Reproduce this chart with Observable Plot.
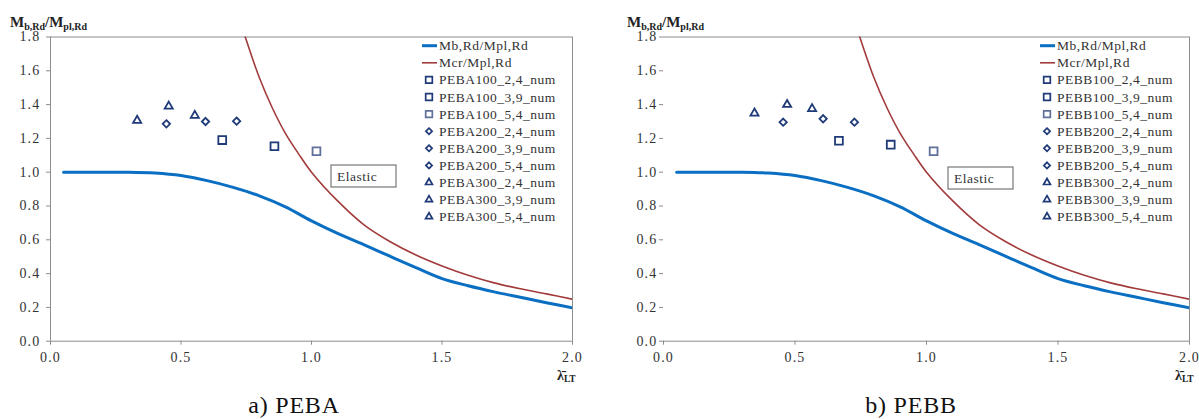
<!DOCTYPE html>
<html><head><meta charset="utf-8">
<script src="https://cdn.jsdelivr.net/npm/d3@7"></script>
<script src="https://cdn.jsdelivr.net/npm/@observablehq/plot@0.6"></script>
<style>
body{margin:0;background:#fff;}
#wrap{position:relative;width:1199px;height:419px;overflow:hidden;background:#fff;}
.panel{position:absolute;top:0;}
.panel svg, .panel svg text{font-family:"Liberation Serif","Times New Roman","DejaVu Serif",serif !important;}
.panel svg [aria-label$="tick label"] text{letter-spacing:1.2px;}
</style></head><body><div id="wrap"></div>
<script>
// Mb,Rd/Mpl,Rd curve
const lambdaB = [0.05,0.1,0.2,0.3,0.4,0.5,0.6,0.7,0.8,0.9,1.0,1.1,1.2,1.3,1.4,1.5,1.6,1.7,1.8,1.9,2.0];
const mbRd    = [1.0,1.0,1.0,1.0,0.995,0.98,0.95,0.91,0.86,0.795,0.712,0.638,0.572,0.503,0.435,0.37,0.328,0.292,0.26,0.228,0.197];
// Mcr/Mpl,Rd curve
const lambdaCr = [0.74,0.8,0.85,0.9,0.95,1.0,1.1,1.2,1.3,1.4,1.5,1.6,1.7,1.8,1.9,2.0];
const mcr      = [1.83,1.56,1.38,1.23,1.11,1.0,0.83,0.69,0.59,0.51,0.445,0.39,0.345,0.31,0.28,0.248];

const xTicks = [0,0.5,1,1.5,2];
const yTicks = [0,0.2,0.4,0.6,0.8,1.0,1.2,1.4,1.6,1.8];

const seriesSuffix = ["100_2,4","100_3,9","100_5,4","200_2,4","200_3,9","200_5,4","300_2,4","300_3,9","300_5,4"];
const seriesSymbol = ["square","square","square","diamond2","diamond2","diamond2","triangle","triangle","triangle"];
const seriesColor  = ["#1f3a78","#1f3a78","#60709a","#1f3a78","#1f3a78","#1f3a78","#1f3a78","#1f3a78","#1f3a78"];

// numerical results (lambda, M/Mpl) per series
const pebaLambda = [0.658,0.858,1.019,0.444,0.594,0.713,0.332,0.453,0.553];
const pebaValue  = [1.19,1.154,1.124,1.286,1.30,1.302,1.306,1.39,1.335];
const pebbLambda = [0.667,0.864,1.027,0.455,0.607,0.726,0.346,0.470,0.565];
const pebbValue  = [1.186,1.163,1.124,1.296,1.316,1.296,1.349,1.40,1.375];

const FONT = "'Liberation Serif', 'Times New Roman', serif";
const symR = {square: 4.4, diamond2: 3.3, triangle: 3.0};

function panel(cfg){
  const blue = lambdaB.map((x,i)=>({x, y: mbRd[i]}));
  const red = lambdaCr.map((x,i)=>({x, y: mcr[i]}));
  const dots = seriesSuffix.map((s,i)=>Plot.dot([{x: cfg.lam[i], y: cfg.val[i]}], {
    x:"x", y:"y", symbol: seriesSymbol[i], r: symR[seriesSymbol[i]], fill:"none", stroke: seriesColor[i], strokeWidth: 1.8
  }));
  const marks = [
    Plot.ruleY([1.8], {stroke:"#8c8c8c"}),
    Plot.ruleX([2], {stroke:"#8c8c8c"}),
    Plot.ruleY([0], {stroke:"#8c8c8c"}),
  ];
  if (cfg.leftLine) marks.push(Plot.ruleX([0], {stroke:"#8c8c8c"}));
  marks.push(
    Plot.axisY(yTicks, {tickFormat: d=>d.toFixed(1), tickSize: cfg.yTickSize, tickPadding: cfg.yTickPad, label: null, stroke:"#8c8c8c", fill:"#333"}),
    Plot.axisX(xTicks, {tickFormat: d=>d.toFixed(1), tickSize: 4, tickPadding: 7, label: null, stroke:"#8c8c8c", fill:"#333"}),
    Plot.line(red, {x:"x", y:"y", stroke:"#a23b3b", strokeWidth: 1.6, curve: "catmull-rom", clip: true}),
    Plot.line(blue, {x:"x", y:"y", stroke:"#0a6fc2", strokeWidth: 3, curve: "catmull-rom", clip: true}),
    ...dots
  );
  const plot = Plot.plot({
    width: cfg.width, height: 419,
    marginLeft: cfg.ml, marginRight: cfg.mr, marginTop: 36.5, marginBottom: 78.3,
    x: {domain:[0,2]}, y: {domain:[0,1.8]},
    style: {fontFamily: FONT, fontSize: "14px", color: "#333", background: "white"},
    marks
  });
  const svg = d3.select(plot);
  const g = svg.append("g").attr("font-family", FONT).attr("fill", "#333").attr("text-anchor","start");

  // y title
  const t = g.append("text").attr("x", cfg.titleX).attr("y", 27).attr("font-weight", "bold").attr("font-size", 15).attr("fill","#222");
  t.append("tspan").text("M");
  t.append("tspan").attr("font-size", 10).attr("dy", 3).text("b,Rd");
  t.append("tspan").attr("dy", -3).text("/M");
  t.append("tspan").attr("font-size", 10).attr("dy", 3).text("pl,Rd");

  // x title
  const xt = g.append("text").attr("x", cfg.xTitleX).attr("y", 380).attr("font-weight","bold").attr("font-size", 14).attr("fill","#222");
  xt.append("tspan").text("\u03BB\u0304");
  xt.append("tspan").attr("font-size", 9.5).attr("dy", 2).text("LT");

  // legend
  const ly0 = 45.7, ldy = 17.1;
  const lg = g.append("g").attr("font-size", 13.5).attr("letter-spacing", 0.5);
  lg.append("line").attr("x1", cfg.legX - 17).attr("x2", cfg.legX - 2).attr("y1", ly0).attr("y2", ly0).attr("stroke", "#0a6fc2").attr("stroke-width", 3);
  lg.append("text").attr("x", cfg.legX).attr("y", ly0 + 4.5).text("Mb,Rd/Mpl,Rd");
  lg.append("line").attr("x1", cfg.legX - 17).attr("x2", cfg.legX - 2).attr("y1", ly0 + ldy).attr("y2", ly0 + ldy).attr("stroke", "#a23b3b").attr("stroke-width", 1.6);
  lg.append("text").attr("x", cfg.legX).attr("y", ly0 + ldy + 4.5).text("Mcr/Mpl,Rd");
  const symMap = {square: d3.symbolSquare, diamond2: d3.symbolDiamond2, triangle: d3.symbolTriangle};
  seriesSuffix.forEach((s,i)=>{
    const y = ly0 + (i+2)*ldy;
    const rr = symR[seriesSymbol[i]] * 0.85;
    lg.append("path").attr("transform", `translate(${cfg.legX - 10},${y})`)
      .attr("d", d3.symbol(symMap[seriesSymbol[i]], rr*rr*Math.PI)())
      .attr("fill","none").attr("stroke", seriesColor[i]).attr("stroke-width", 1.7);
    lg.append("text").attr("x", cfg.legX).attr("y", y + 4.5).text(cfg.prefix + s + "_num");
  });

  // Elastic box
  g.append("rect").attr("x", cfg.elX).attr("y", cfg.elY).attr("width", 65).attr("height", 22)
    .attr("fill","white").attr("stroke","#777").attr("stroke-width",1.2);
  g.append("text").attr("x", cfg.elX + 6).attr("y", cfg.elY + 16).attr("font-size", 13.5).attr("letter-spacing", 0.5).text("Elastic");

  // caption
  g.append("text").attr("x", cfg.capX).attr("y", 413).attr("text-anchor","middle").attr("font-size", 24).attr("letter-spacing", 0.8).attr("fill","#111").text(cfg.caption);

  const div = document.createElement("div");
  div.className = "panel";
  div.style.left = cfg.left + "px";
  div.appendChild(plot);
  document.getElementById("wrap").appendChild(div);
}

panel({left:0, width:600, ml:50, mr:28, leftLine:true, yTickSize:4, yTickPad:6,
  lam: pebaLambda, val: pebaValue, prefix:"PEBA", titleX:10, xTitleX:557,
  legX:439, elX:331, elY:165, capX:294, caption:"a) PEBA"});
panel({left:600, width:599, ml:63, mr:10, leftLine:false, yTickSize:4, yTickPad:2,
  lam: pebbLambda, val: pebbValue, prefix:"PEBB", titleX:27, xTitleX:575,
  legX:457, elX:348, elY:167, capX:311, caption:"b) PEBB"});
</script></body></html>
